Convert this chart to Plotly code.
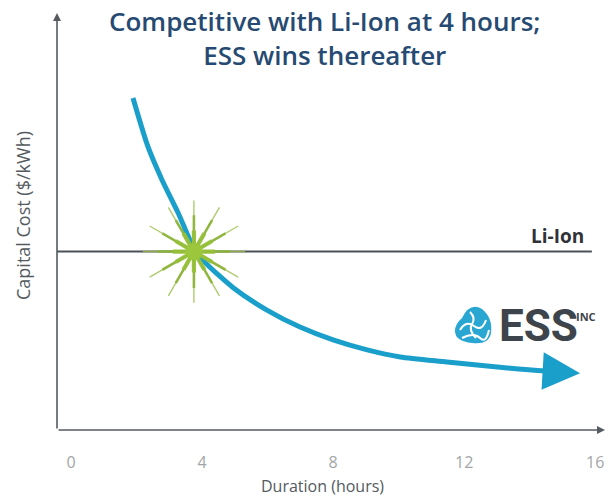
import plotly.graph_objects as go

# ---- data -------------------------------------------------------------
DURATION_H = [1.89, 2.35, 2.78, 3.27, 3.73, 4.09, 4.95, 5.98, 6.99, 8.0,
              9.04, 10.05, 11.48, 13.5, 14.47, 15.54]
ESS_COST = [80.0, 68.2, 60.2, 52.3, 44.1, 40.4, 34.3, 28.9, 24.8, 21.7,
            19.3, 17.6, 16.4, 14.8, 14.2, 13.7]
LIION_COST = 43.0
LIION_END_H = 15.9
CROSSOVER_H = 3.75
X_TICKS = [0, 4, 8, 12, 16]
X_TICK_TEXT = ["0", "4", "8", "12", "16"]

# ---- geometry ---------------------------------------------------------
W, H = 609, 496
ML, MR, MT, MB = 57, 6, 15, 66
PW, PH = W - ML - MR, H - MT - MB
X_RANGE = [-0.43, 16.24]
Y_RANGE = [0, 100]

CYAN = "#1a9fcb"
AXIS = "#555b61"
NAVY = "#264a72"
FONT = "Open Sans, Noto Sans, sans-serif"


def pxx(px):
    return (px - ML) / PW


def pxy(py):
    return (MT + PH - py) / PH


def pxpath(points, close=False):
    s = ""
    for cmd, pts in points:
        s += cmd + " " + " ".join(f"{pxx(a):.4f},{pxy(b):.4f}" for a, b in pts) + " "
    return s + ("Z" if close else "")


fig = go.Figure()

# Li-Ion reference level
fig.add_trace(go.Scatter(x=[X_RANGE[0], LIION_END_H], y=[LIION_COST, LIION_COST],
                         mode="lines", line=dict(color="#4b5259", width=2),
                         hoverinfo="skip", showlegend=False))

# ESS cost curve (ends at the arrowhead base)
fig.add_trace(go.Scatter(x=DURATION_H[:-1], y=ESS_COST[:-1], mode="lines",
                         line=dict(color=CYAN, width=5, shape="spline", smoothing=0.7),
                         hoverinfo="skip", showlegend=False))

# crossover starburst: 12 tapered rays built from rotated thin crosses
for size, width, color in [(73, 1.4, "rgba(155,190,75,0.8)"),
                           (52, 2.6, "rgba(140,178,55,0.9)"),
                           (30, 4.2, "rgba(150,192,58,0.95)")]:
    fig.add_trace(go.Scatter(
        x=[CROSSOVER_H] * 3, y=[LIION_COST] * 3, mode="markers",
        marker=dict(symbol="cross-thin-open", size=size, angle=[0, 30, 60],
                    color=color, line=dict(color=color, width=width)),
        hoverinfo="skip", showlegend=False))
fig.add_trace(go.Scatter(x=[CROSSOVER_H], y=[LIION_COST], mode="markers",
                         marker=dict(symbol="circle", size=17, color="#9cc63c",
                                     line=dict(width=0)),
                         hoverinfo="skip", showlegend=False))

annotations = []

# arrowhead at the end of the ESS curve
annotations.append(dict(
    x=DURATION_H[-1], y=ESS_COST[-1], xref="x", yref="y",
    ax=DURATION_H[-2], ay=ESS_COST[-2], axref="x", ayref="y",
    text="", showarrow=True, arrowhead=2, arrowsize=1.5, arrowwidth=5,
    arrowcolor=CYAN, standoff=0))

# axes with arrowheads
annotations.append(dict(x=pxx(605), y=0, xref="paper", yref="paper",
                        ax=-(605 - ML), ay=0, axref="pixel", ayref="pixel",
                        text="", showarrow=True, arrowhead=2, arrowsize=1,
                        arrowwidth=1.6, arrowcolor=AXIS))
annotations.append(dict(x=0, y=pxy(13), xref="paper", yref="paper",
                        ax=0, ay=(MT + PH - 13), axref="pixel", ayref="pixel",
                        text="", showarrow=True, arrowhead=2, arrowsize=1,
                        arrowwidth=1.6, arrowcolor=AXIS))

# title
annotations.append(dict(x=pxx(324), y=pxy(38), xref="paper", yref="paper",
                        text="Competitive with Li-Ion at 4 hours;<br>ESS wins thereafter",
                        showarrow=False, xanchor="center", yanchor="middle",
                        font=dict(family=FONT, size=26, color=NAVY, weight=600)))

# axis titles
annotations.append(dict(x=pxx(322), y=pxy(486), xref="paper", yref="paper",
                        text="Duration (hours)", showarrow=False,
                        xanchor="center", yanchor="middle",
                        font=dict(family=FONT, size=16, color="#555a60")))
annotations.append(dict(x=pxx(23), y=pxy(216), xref="paper", yref="paper",
                        text="Capital Cost ($/kWh)", showarrow=False, textangle=-90,
                        xanchor="center", yanchor="middle",
                        font=dict(family=FONT, size=18, color="#555a60")))

# Li-Ion label
annotations.append(dict(x=pxx(586), y=LIION_COST, xref="paper", yref="y",
                        text="<b>Li-Ion</b>", showarrow=False, xanchor="right",
                        yanchor="bottom", yshift=1,
                        font=dict(family=FONT, size=19, color="#2f3338")))

# ESS logo wordmark
annotations.append(dict(x=pxx(497), y=pxy(326), xref="paper", yref="paper",
                        text="<b>ESS</b>", showarrow=False, xanchor="left",
                        yanchor="middle",
                        font=dict(family="Roboto, sans-serif", size=44, color="#3e444b")))
annotations.append(dict(x=pxx(574), y=pxy(316), xref="paper", yref="paper",
                        text="<b>INC</b>", showarrow=False, xanchor="left",
                        yanchor="middle",
                        font=dict(family=FONT, size=11, color="#3e444b")))

shapes = []
# logo mark: rounded triangle with white swirls
blob = [("M", [(462, 318)]),
        ("Q", [(470, 302), (482, 309)]),
        ("Q", [(493, 318), (491, 333)]),
        ("Q", [(489, 345), (472, 343)]),
        ("Q", [(455, 341), (455, 331)]),
        ("Q", [(455, 324), (462, 318)])]
shapes.append(dict(type="path", xref="paper", yref="paper",
                   path=pxpath(blob, close=True),
                   fillcolor="#2aa6d3", line=dict(width=0)))
for swirl in ([("M", [(460, 330)]), ("Q", [(466, 320), (474, 326)]), ("T", [(486, 320)])],
              [("M", [(470, 312)]), ("Q", [(476, 318), (472, 324)]), ("T", [(476, 338)])],
              [("M", [(462, 338)]), ("Q", [(474, 332), (480, 338)]), ("T", [(489, 330)])]):
    shapes.append(dict(type="path", xref="paper", yref="paper",
                       path=pxpath(swirl), line=dict(color="white", width=2)))

fig.update_layout(
    width=W, height=H,
    margin=dict(l=ML, r=MR, t=MT, b=MB),
    paper_bgcolor="white", plot_bgcolor="white",
    showlegend=False,
    annotations=annotations,
    shapes=shapes,
    xaxis=dict(range=X_RANGE, tickvals=X_TICKS, ticktext=X_TICK_TEXT,
               showgrid=False, zeroline=False, showline=False, ticks="",
               ticklabelstandoff=21,
               tickfont=dict(family=FONT, size=16, color="#a3a6a9")),
    yaxis=dict(range=Y_RANGE, showticklabels=False, showgrid=False,
               zeroline=False, showline=False, ticks=""),
)

fig.write_html("out.html")
